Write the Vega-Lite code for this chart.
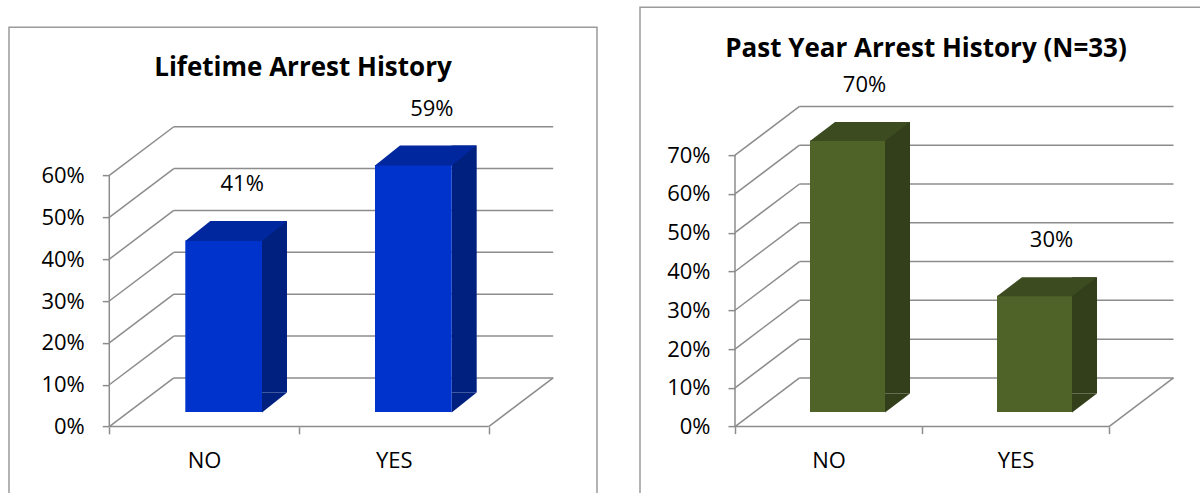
{
  "$schema": "https://vega.github.io/schema/vega-lite/v6.json",
  "background": "#ffffff",
  "padding": {"left": 8, "top": 6, "right": 0, "bottom": 0},
  "datasets": {
    "lifetime": [{"answer": "NO", "pct": 0.41}, {"answer": "YES", "pct": 0.59}],
    "pastyear": [{"answer": "NO", "pct": 0.70}, {"answer": "YES", "pct": 0.30}],
    "ticksL": [{"v": 0}, {"v": 0.1}, {"v": 0.2}, {"v": 0.3}, {"v": 0.4}, {"v": 0.5}, {"v": 0.6}],
    "ticksR": [{"v": 0}, {"v": 0.1}, {"v": 0.2}, {"v": 0.3}, {"v": 0.4}, {"v": 0.5}, {"v": 0.6}, {"v": 0.7}]
  },
  "hconcat": [
    {
      "width": 588,
      "height": 480,
      "title": {"text": "Lifetime Arrest History", "offset": -75, "baseline": "alphabetic", "anchor": "middle", "frame": "group", "font": "Open Sans", "fontSize": 26, "fontWeight": "bold", "color": "#000000"},
      "layer": [
        {
          "data": {"name": "ticksL"},
          "mark": {"type": "rule", "color": "#8c8c8c", "strokeWidth": 1.5, "x2Offset": 64.5, "y2Offset": -48.7},
          "encoding": {
            "x": {"datum": "NO", "bandPosition": 0, "type": "nominal", "scale": {"domain": ["NO", "YES"], "paddingInner": 0, "paddingOuter": 0.5498, "align": 0.4808}, "axis": {"offset": -80.3, "title": null}},
            "x2": {"datum": "NO", "bandPosition": 0},
            "y": {"field": "v", "type": "quantitative", "scale": {"domain": [-0.19228, 0.95422], "nice": false, "zero": false}, "axis": {"offset": -100.3, "values": [0, 0.1, 0.2, 0.3, 0.4, 0.5, 0.6], "format": ".0%", "title": null}},
            "y2": {"field": "v"}
          }
        },
        {
          "data": {"name": "ticksL"},
          "mark": {"type": "rule", "color": "#8c8c8c", "strokeWidth": 1.5, "xOffset": 64.5, "x2Offset": 64.5, "yOffset": -48.7},
          "encoding": {
            "x": {"datum": "NO", "bandPosition": 0, "type": "nominal", "scale": {"domain": ["NO", "YES"], "paddingInner": 0, "paddingOuter": 0.5498, "align": 0.4808}, "axis": {"offset": -80.3, "title": null}},
            "x2": {"datum": "YES", "bandPosition": 1},
            "y": {"field": "v", "type": "quantitative", "scale": {"domain": [-0.19228, 0.95422], "nice": false, "zero": false}, "axis": {"offset": -100.3, "values": [0, 0.1, 0.2, 0.3, 0.4, 0.5, 0.6], "format": ".0%", "title": null}}
          }
        },
        {
          "data": {"name": "ticksL"},
          "transform": [{"filter": "datum.v == 0"}],
          "mark": {"type": "rule", "color": "#8c8c8c", "strokeWidth": 1.5},
          "encoding": {
            "x": {"datum": "NO", "bandPosition": 0, "type": "nominal", "scale": {"domain": ["NO", "YES"], "paddingInner": 0, "paddingOuter": 0.5498, "align": 0.4808}, "axis": {"offset": -80.3, "title": null}},
            "x2": {"datum": "YES", "bandPosition": 1},
            "y": {"field": "v", "type": "quantitative", "scale": {"domain": [-0.19228, 0.95422], "nice": false, "zero": false}, "axis": {"offset": -100.3, "values": [0, 0.1, 0.2, 0.3, 0.4, 0.5, 0.6], "format": ".0%", "title": null}}
          }
        },
        {
          "data": {"name": "ticksL"},
          "transform": [{"filter": "datum.v == 0"}],
          "mark": {"type": "rule", "color": "#8c8c8c", "strokeWidth": 1.5, "x2Offset": 64.5, "y2Offset": -48.7},
          "encoding": {
            "x": {"datum": "YES", "bandPosition": 1, "type": "nominal", "scale": {"domain": ["NO", "YES"], "paddingInner": 0, "paddingOuter": 0.5498, "align": 0.4808}, "axis": {"offset": -80.3, "title": null}},
            "x2": {"datum": "YES", "bandPosition": 1},
            "y": {"field": "v", "type": "quantitative", "scale": {"domain": [-0.19228, 0.95422], "nice": false, "zero": false}, "axis": {"offset": -100.3, "values": [0, 0.1, 0.2, 0.3, 0.4, 0.5, 0.6], "format": ".0%", "title": null}},
            "y2": {"field": "v"}
          }
        },
        {
          "data": {"name": "ticksL"},
          "mark": {"type": "rule", "color": "#8c8c8c", "strokeWidth": 1.5},
          "encoding": {
            "x": {"datum": "NO", "bandPosition": 0, "type": "nominal", "scale": {"domain": ["NO", "YES"], "paddingInner": 0, "paddingOuter": 0.5498, "align": 0.4808}, "axis": {"offset": -80.3, "title": null}},
            "y": {"aggregate": "min", "field": "v", "type": "quantitative", "scale": {"domain": [-0.19228, 0.95422], "nice": false, "zero": false}, "axis": {"offset": -100.3, "values": [0, 0.1, 0.2, 0.3, 0.4, 0.5, 0.6], "format": ".0%", "title": null}},
            "y2": {"aggregate": "max", "field": "v"}
          }
        },
        {
          "data": {"name": "lifetime"},
          "mark": {"type": "bar", "color": "#002080", "width": 25, "xOffset": 70.35, "yOffset": -34, "y2Offset": -34},
          "encoding": {
            "x": {"field": "answer", "type": "nominal", "scale": {"domain": ["NO", "YES"], "paddingInner": 0, "paddingOuter": 0.5498, "align": 0.4808}, "axis": {"offset": -80.3, "title": null}},
            "y": {"field": "pct", "type": "quantitative", "scale": {"domain": [-0.19228, 0.95422], "nice": false, "zero": false}, "axis": {"offset": -100.3, "values": [0, 0.1, 0.2, 0.3, 0.4, 0.5, 0.6], "format": ".0%", "title": null}},
            "y2": {"datum": 0}
          }
        },
        {
          "data": {"name": "lifetime"},
          "mark": {"type": "point", "shape": "M38.35,0.5L38.35,-19.5L63.35,-19.5Z", "size": 4, "filled": true, "opacity": 1, "strokeWidth": 0, "color": "#002080", "xOffset": 19.5, "yOffset": -14.5},
          "encoding": {
            "x": {"field": "answer", "type": "nominal", "scale": {"domain": ["NO", "YES"], "paddingInner": 0, "paddingOuter": 0.5498, "align": 0.4808}, "axis": {"offset": -80.3, "title": null}},
            "y": {"datum": 0, "type": "quantitative", "scale": {"domain": [-0.19228, 0.95422], "nice": false, "zero": false}, "axis": {"offset": -100.3, "values": [0, 0.1, 0.2, 0.3, 0.4, 0.5, 0.6], "format": ".0%", "title": null}}
          }
        },
        {
          "data": {"name": "lifetime"},
          "mark": {"type": "bar", "color": "#0033cc", "width": 76.7, "xOffset": 19.5, "yOffset": -14.5, "y2Offset": -14.5},
          "encoding": {
            "x": {"field": "answer", "type": "nominal", "scale": {"domain": ["NO", "YES"], "paddingInner": 0, "paddingOuter": 0.5498, "align": 0.4808}, "axis": {"offset": -80.3, "title": null}},
            "y": {"field": "pct", "type": "quantitative", "scale": {"domain": [-0.19228, 0.95422], "nice": false, "zero": false}, "axis": {"offset": -100.3, "values": [0, 0.1, 0.2, 0.3, 0.4, 0.5, 0.6], "format": ".0%", "title": null}},
            "y2": {"datum": 0}
          }
        },
        {
          "data": {"name": "lifetime"},
          "mark": {"type": "point", "shape": "M-38.35,0.5L38.35,0.5L63.35,-19.5L-13.35,-19.5Z", "size": 4, "filled": true, "opacity": 1, "strokeWidth": 0, "color": "#00279e", "xOffset": 19.5, "yOffset": -14.5},
          "encoding": {
            "x": {"field": "answer", "type": "nominal", "scale": {"domain": ["NO", "YES"], "paddingInner": 0, "paddingOuter": 0.5498, "align": 0.4808}, "axis": {"offset": -80.3, "title": null}},
            "y": {"field": "pct", "type": "quantitative", "scale": {"domain": [-0.19228, 0.95422], "nice": false, "zero": false}, "axis": {"offset": -100.3, "values": [0, 0.1, 0.2, 0.3, 0.4, 0.5, 0.6], "format": ".0%", "title": null}}
          }
        },
        {
          "data": {"name": "lifetime"},
          "mark": {"type": "text", "font": "Open Sans", "fontSize": 22, "color": "#000000", "align": "center", "baseline": "middle", "xOffset": 38, "yOffset": -71},
          "encoding": {
            "x": {"field": "answer", "type": "nominal", "scale": {"domain": ["NO", "YES"], "paddingInner": 0, "paddingOuter": 0.5498, "align": 0.4808}, "axis": {"offset": -80.3, "title": null}},
            "y": {"field": "pct", "type": "quantitative", "scale": {"domain": [-0.19228, 0.95422], "nice": false, "zero": false}, "axis": {"offset": -100.3, "values": [0, 0.1, 0.2, 0.3, 0.4, 0.5, 0.6], "format": ".0%", "title": null}},
            "text": {"field": "pct", "type": "quantitative", "format": ".0%"}
          }
        }
      ]
    },
    {
      "width": 572,
      "height": 520,
      "title": {"text": "Past Year Arrest History (N=33)", "offset": -76, "baseline": "alphabetic", "anchor": "middle", "frame": "group", "font": "Open Sans", "fontSize": 26, "fontWeight": "bold", "color": "#000000"},
      "layer": [
        {
          "data": {"name": "ticksR"},
          "mark": {"type": "rule", "color": "#8c8c8c", "strokeWidth": 1.5, "x2Offset": 64.5, "y2Offset": -48.7},
          "encoding": {
            "x": {"datum": "NO", "bandPosition": 0, "type": "nominal", "scale": {"domain": ["NO", "YES"], "paddingInner": 0, "paddingOuter": 0.5294, "align": 0.4798}, "axis": {"offset": -100.5, "title": null}},
            "x2": {"datum": "NO", "bandPosition": 0},
            "y": {"field": "v", "type": "quantitative", "scale": {"domain": [-0.25912, 1.08158], "nice": false, "zero": false}, "axis": {"offset": -95, "values": [0, 0.1, 0.2, 0.3, 0.4, 0.5, 0.6, 0.7], "format": ".0%", "title": null}},
            "y2": {"field": "v"}
          }
        },
        {
          "data": {"name": "ticksR"},
          "mark": {"type": "rule", "color": "#8c8c8c", "strokeWidth": 1.5, "xOffset": 64.5, "x2Offset": 64.5, "yOffset": -48.7},
          "encoding": {
            "x": {"datum": "NO", "bandPosition": 0, "type": "nominal", "scale": {"domain": ["NO", "YES"], "paddingInner": 0, "paddingOuter": 0.5294, "align": 0.4798}, "axis": {"offset": -100.5, "title": null}},
            "x2": {"datum": "YES", "bandPosition": 1},
            "y": {"field": "v", "type": "quantitative", "scale": {"domain": [-0.25912, 1.08158], "nice": false, "zero": false}, "axis": {"offset": -95, "values": [0, 0.1, 0.2, 0.3, 0.4, 0.5, 0.6, 0.7], "format": ".0%", "title": null}}
          }
        },
        {
          "data": {"name": "ticksR"},
          "transform": [{"filter": "datum.v == 0"}],
          "mark": {"type": "rule", "color": "#8c8c8c", "strokeWidth": 1.5},
          "encoding": {
            "x": {"datum": "NO", "bandPosition": 0, "type": "nominal", "scale": {"domain": ["NO", "YES"], "paddingInner": 0, "paddingOuter": 0.5294, "align": 0.4798}, "axis": {"offset": -100.5, "title": null}},
            "x2": {"datum": "YES", "bandPosition": 1},
            "y": {"field": "v", "type": "quantitative", "scale": {"domain": [-0.25912, 1.08158], "nice": false, "zero": false}, "axis": {"offset": -95, "values": [0, 0.1, 0.2, 0.3, 0.4, 0.5, 0.6, 0.7], "format": ".0%", "title": null}}
          }
        },
        {
          "data": {"name": "ticksR"},
          "transform": [{"filter": "datum.v == 0"}],
          "mark": {"type": "rule", "color": "#8c8c8c", "strokeWidth": 1.5, "x2Offset": 64.5, "y2Offset": -48.7},
          "encoding": {
            "x": {"datum": "YES", "bandPosition": 1, "type": "nominal", "scale": {"domain": ["NO", "YES"], "paddingInner": 0, "paddingOuter": 0.5294, "align": 0.4798}, "axis": {"offset": -100.5, "title": null}},
            "x2": {"datum": "YES", "bandPosition": 1},
            "y": {"field": "v", "type": "quantitative", "scale": {"domain": [-0.25912, 1.08158], "nice": false, "zero": false}, "axis": {"offset": -95, "values": [0, 0.1, 0.2, 0.3, 0.4, 0.5, 0.6, 0.7], "format": ".0%", "title": null}},
            "y2": {"field": "v"}
          }
        },
        {
          "data": {"name": "ticksR"},
          "mark": {"type": "rule", "color": "#8c8c8c", "strokeWidth": 1.5},
          "encoding": {
            "x": {"datum": "NO", "bandPosition": 0, "type": "nominal", "scale": {"domain": ["NO", "YES"], "paddingInner": 0, "paddingOuter": 0.5294, "align": 0.4798}, "axis": {"offset": -100.5, "title": null}},
            "y": {"aggregate": "min", "field": "v", "type": "quantitative", "scale": {"domain": [-0.25912, 1.08158], "nice": false, "zero": false}, "axis": {"offset": -95, "values": [0, 0.1, 0.2, 0.3, 0.4, 0.5, 0.6, 0.7], "format": ".0%", "title": null}},
            "y2": {"aggregate": "max", "field": "v"}
          }
        },
        {
          "data": {"name": "pastyear"},
          "mark": {"type": "bar", "color": "#333f1b", "width": 25, "xOffset": 69, "yOffset": -33, "y2Offset": -33},
          "encoding": {
            "x": {"field": "answer", "type": "nominal", "scale": {"domain": ["NO", "YES"], "paddingInner": 0, "paddingOuter": 0.5294, "align": 0.4798}, "axis": {"offset": -100.5, "title": null}},
            "y": {"field": "pct", "type": "quantitative", "scale": {"domain": [-0.25912, 1.08158], "nice": false, "zero": false}, "axis": {"offset": -95, "values": [0, 0.1, 0.2, 0.3, 0.4, 0.5, 0.6, 0.7], "format": ".0%", "title": null}},
            "y2": {"datum": 0}
          }
        },
        {
          "data": {"name": "pastyear"},
          "mark": {"type": "point", "shape": "M37.5,0.5L37.5,-18.5L62.5,-18.5Z", "size": 4, "filled": true, "opacity": 1, "strokeWidth": 0, "color": "#333f1b", "xOffset": 19, "yOffset": -14.5},
          "encoding": {
            "x": {"field": "answer", "type": "nominal", "scale": {"domain": ["NO", "YES"], "paddingInner": 0, "paddingOuter": 0.5294, "align": 0.4798}, "axis": {"offset": -100.5, "title": null}},
            "y": {"datum": 0, "type": "quantitative", "scale": {"domain": [-0.25912, 1.08158], "nice": false, "zero": false}, "axis": {"offset": -95, "values": [0, 0.1, 0.2, 0.3, 0.4, 0.5, 0.6, 0.7], "format": ".0%", "title": null}}
          }
        },
        {
          "data": {"name": "pastyear"},
          "mark": {"type": "bar", "color": "#4f6228", "width": 75, "xOffset": 19, "yOffset": -14.5, "y2Offset": -14.5},
          "encoding": {
            "x": {"field": "answer", "type": "nominal", "scale": {"domain": ["NO", "YES"], "paddingInner": 0, "paddingOuter": 0.5294, "align": 0.4798}, "axis": {"offset": -100.5, "title": null}},
            "y": {"field": "pct", "type": "quantitative", "scale": {"domain": [-0.25912, 1.08158], "nice": false, "zero": false}, "axis": {"offset": -95, "values": [0, 0.1, 0.2, 0.3, 0.4, 0.5, 0.6, 0.7], "format": ".0%", "title": null}},
            "y2": {"datum": 0}
          }
        },
        {
          "data": {"name": "pastyear"},
          "mark": {"type": "point", "shape": "M-37.5,0.5L37.5,0.5L62.5,-18.5L-12.5,-18.5Z", "size": 4, "filled": true, "opacity": 1, "strokeWidth": 0, "color": "#3d4b20", "xOffset": 19, "yOffset": -14.5},
          "encoding": {
            "x": {"field": "answer", "type": "nominal", "scale": {"domain": ["NO", "YES"], "paddingInner": 0, "paddingOuter": 0.5294, "align": 0.4798}, "axis": {"offset": -100.5, "title": null}},
            "y": {"field": "pct", "type": "quantitative", "scale": {"domain": [-0.25912, 1.08158], "nice": false, "zero": false}, "axis": {"offset": -95, "values": [0, 0.1, 0.2, 0.3, 0.4, 0.5, 0.6, 0.7], "format": ".0%", "title": null}}
          }
        },
        {
          "data": {"name": "pastyear"},
          "mark": {"type": "text", "font": "Open Sans", "fontSize": 22, "color": "#000000", "align": "center", "baseline": "middle", "xOffset": 36, "yOffset": -70},
          "encoding": {
            "x": {"field": "answer", "type": "nominal", "scale": {"domain": ["NO", "YES"], "paddingInner": 0, "paddingOuter": 0.5294, "align": 0.4798}, "axis": {"offset": -100.5, "title": null}},
            "y": {"field": "pct", "type": "quantitative", "scale": {"domain": [-0.25912, 1.08158], "nice": false, "zero": false}, "axis": {"offset": -95, "values": [0, 0.1, 0.2, 0.3, 0.4, 0.5, 0.6, 0.7], "format": ".0%", "title": null}},
            "text": {"field": "pct", "type": "quantitative", "format": ".0%"}
          }
        }
      ]
    }
  ],
  "spacing": 41,
  "center": true,
  "config": {
    "view": {"stroke": "#9b9b9b", "strokeWidth": 1.5},
    "font": "Open Sans",
    "axis": {"domain": false, "grid": false, "ticks": true, "tickSize": 7, "tickColor": "#8c8c8c", "tickWidth": 1.5, "labelFont": "Open Sans", "labelFontSize": 22, "labelColor": "#000000"},
    "axisX": {"tickBand": "extent", "labelAngle": 0, "labelPadding": 17},
    "axisY": {"labelPadding": 18}
  }
}
